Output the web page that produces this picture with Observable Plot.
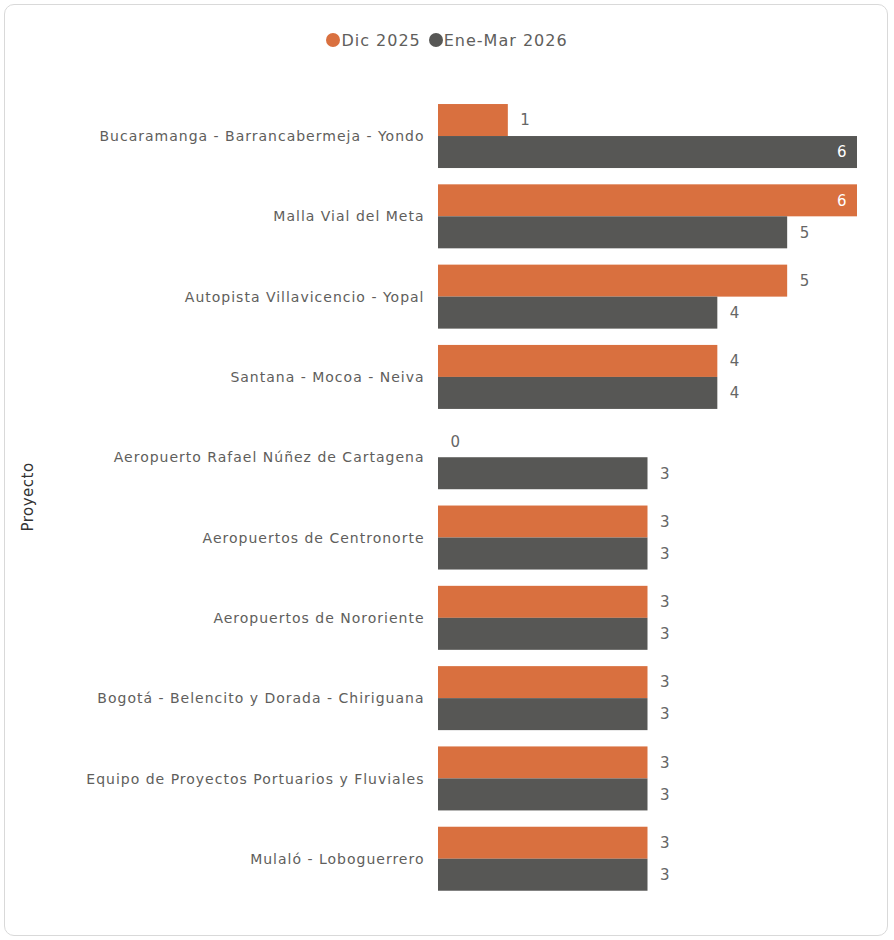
<!DOCTYPE html>
<html>
<head>
<meta charset="utf-8">
<script src="https://cdn.jsdelivr.net/npm/d3@7"></script>
<script src="https://cdn.jsdelivr.net/npm/@observablehq/plot@0.6"></script>
<style>
  html, body { margin: 0; padding: 0; background: #fff; }
  #wrap { position: relative; width: 894px; height: 940px; overflow: hidden; font-family: "DejaVu Sans", sans-serif; }
  #card { position: absolute; left: 4px; top: 4px; width: 884px; height: 932px; border: 1px solid #d9d9d9; border-radius: 10px; box-sizing: border-box; }
  #legend { position: absolute; left: 0; width: 894px; top: 31px; text-align: center; font-size: 16px; letter-spacing: 1px; color: #605E5C; }
  #legend span.item { margin: 0 4px; white-space: nowrap; }
  #legend span.dot { display: inline-block; width: 14px; height: 14px; border-radius: 50%; vertical-align: -1px; margin-right: 1px; }
  #ylabel { position: absolute; left: 28px; top: 497px; transform: translate(-50%, -50%) rotate(-90deg); font-size: 15px; letter-spacing: 0.5px; color: #333; white-space: nowrap; }
  #chart { position: absolute; left: 0; top: 0; }
  #chart g[aria-label="fy-axis tick label"] text { letter-spacing: 1px; }
</style>
</head>
<body>
<div id="wrap">
  <div id="card"></div>
  <div id="legend"></div>
  <div id="chart"></div>
  <div id="ylabel">Proyecto</div>
</div>
<script>
const projects = [
  "Bucaramanga - Barrancabermeja - Yondo",
  "Malla Vial del Meta",
  "Autopista Villavicencio - Yopal",
  "Santana - Mocoa - Neiva",
  "Aeropuerto Rafael Núñez de Cartagena",
  "Aeropuertos de Centronorte",
  "Aeropuertos de Nororiente",
  "Bogotá - Belencito y Dorada - Chiriguana",
  "Equipo de Proyectos Portuarios y Fluviales",
  "Mulaló - Loboguerrero"
];
const seriesNames = ["Dic 2025", "Ene-Mar 2026"];
const dic2025 = [1, 6, 5, 4, 0, 3, 3, 3, 3, 3];
const eneMar2026 = [6, 5, 4, 4, 3, 3, 3, 3, 3, 3];
const colors = ["#D9703F", "#575755"];

const rows = [];
projects.forEach((p, i) => {
  rows.push({project: p, series: seriesNames[0], value: dic2025[i]});
  rows.push({project: p, series: seriesNames[1], value: eneMar2026[i]});
});
const maxV = d3.max(rows, d => d.value);

document.getElementById("legend").innerHTML = seriesNames.map((s, i) =>
  `<span class="item"><span class="dot" style="background:${colors[i]}"></span>${s}</span>`).join("");

const chart = Plot.plot({
  width: 894,
  height: 940,
  marginLeft: 438,
  marginRight: 37,
  marginTop: 96,
  marginBottom: 41,
  style: {fontFamily: "DejaVu Sans, sans-serif", background: "transparent"},
  x: {domain: [0, maxV], axis: null},
  y: {domain: seriesNames, axis: null, padding: 0},
  fy: {domain: projects, paddingInner: 0.2, paddingOuter: 0.1, round: false},
  color: {domain: seriesNames, range: colors},
  marks: [
    Plot.barX(rows, {fy: "project", y: "series", x: "value", fill: "series"}),
    Plot.text(rows.filter(d => d.value < maxV), {
      fy: "project", y: "series", x: "value", text: d => String(d.value),
      dx: 12, textAnchor: "start", fill: "#666666", fontSize: 15
    }),
    Plot.text(rows.filter(d => d.value === maxV), {
      fy: "project", y: "series", x: "value", text: d => String(d.value),
      dx: -11, textAnchor: "end", fill: "#ffffff", fontSize: 15
    }),
    Plot.axisFy({
      anchor: "left", tickSize: 0, tickPadding: 14, fontSize: 14, color: "#605E5C",
      label: null
    })
  ]
});
document.getElementById("chart").appendChild(chart);
</script>
</body>
</html>
